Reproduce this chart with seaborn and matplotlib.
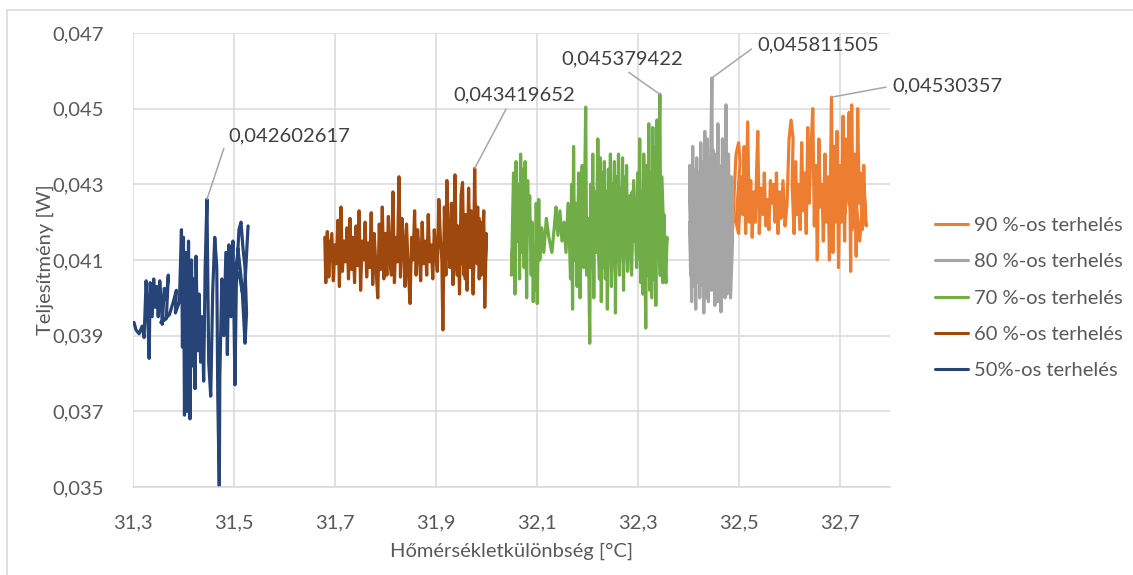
import matplotlib
matplotlib.use("Agg")
import matplotlib.pyplot as plt
import numpy as np
import pandas as pd
import seaborn as sns

# ---- measured series: temperature difference [°C] vs. power [W] ----
x50 = [31.302, 31.306, 31.312, 31.318, 31.322, 31.326, 31.329, 31.332, 31.334, 31.338,
       31.341, 31.344, 31.347, 31.350, 31.353, 31.356, 31.358, 31.362, 31.366, 31.370,
       31.366, 31.355, 31.372, 31.380, 31.386, 31.384, 31.392, 31.396, 31.398, 31.400,
       31.402, 31.405, 31.407, 31.410, 31.413, 31.416, 31.418, 31.420, 31.423, 31.425,
       31.428, 31.431, 31.434, 31.437, 31.440, 31.443, 31.4465, 31.450, 31.454, 31.458,
       31.462, 31.466, 31.468, 31.471, 31.472, 31.476, 31.480, 31.484, 31.487, 31.490,
       31.494, 31.498, 31.502, 31.505, 31.510, 31.514, 31.518, 31.522, 31.525, 31.522,
       31.516, 31.508, 31.500, 31.495, 31.512, 31.520, 31.528]
y50 = [0.03935, 0.03915, 0.03905, 0.03925, 0.03895, 0.04045, 0.03960, 0.03840, 0.04040, 0.03950,
       0.04050, 0.03975, 0.04030, 0.03950, 0.04045, 0.03985, 0.03930, 0.04025, 0.03995, 0.04060,
       0.03945, 0.03935, 0.03955, 0.03990, 0.04020, 0.03960, 0.03990, 0.04180, 0.03870, 0.04160,
       0.03690, 0.04120, 0.03700, 0.04150, 0.03680, 0.04100, 0.03820, 0.04050, 0.03760, 0.04110,
       0.03860, 0.04010, 0.03830, 0.03950, 0.03780, 0.04080, 0.042602617, 0.03830, 0.03740, 0.04020,
       0.04160, 0.04080, 0.03740, 0.03490, 0.03790, 0.04050, 0.03900, 0.04120, 0.03850, 0.04140,
       0.03950, 0.04150, 0.03770, 0.04060, 0.04180, 0.04200, 0.04130, 0.04080, 0.03960, 0.03880,
       0.04030, 0.04130, 0.03980, 0.04100, 0.04050, 0.03990, 0.04190]

x60 = [31.680, 31.682, 31.685, 31.688, 31.691, 31.689, 31.694, 31.697, 31.700, 31.703,
       31.706, 31.709, 31.712, 31.715, 31.718, 31.721, 31.724, 31.727, 31.730, 31.733,
       31.736, 31.739, 31.742, 31.745, 31.748, 31.751, 31.754, 31.757, 31.760, 31.763,
       31.766, 31.769, 31.772, 31.775, 31.778, 31.781, 31.785, 31.788, 31.791, 31.794,
       31.797, 31.800, 31.803, 31.806, 31.809, 31.812, 31.815, 31.818, 31.821, 31.824,
       31.827, 31.830, 31.833, 31.836, 31.839, 31.842, 31.845, 31.849, 31.852, 31.855,
       31.858, 31.861, 31.864, 31.867, 31.870, 31.873, 31.876, 31.879, 31.882, 31.885,
       31.888, 31.891, 31.894, 31.897, 31.900, 31.903, 31.906, 31.909, 31.912, 31.914,
       31.917, 31.920, 31.922, 31.925, 31.928, 31.931, 31.934, 31.938, 31.941, 31.944,
       31.947, 31.950, 31.953, 31.956, 31.959, 31.962, 31.965, 31.968, 31.971, 31.974,
       31.977, 31.980, 31.983, 31.986, 31.989, 31.992, 31.995, 31.997, 32.000, 31.998,
       31.994, 31.990, 31.986, 31.982, 31.978, 31.974, 31.970, 31.966, 31.962, 31.958,
       31.954, 31.950, 31.946, 31.942, 31.938]
y60 = [0.04160, 0.04040, 0.04175, 0.04055, 0.04150, 0.04090, 0.04170, 0.04045, 0.04140, 0.04090,
       0.04205, 0.04030, 0.04240, 0.04070, 0.04150, 0.04095, 0.04185, 0.04050, 0.04210, 0.04075,
       0.04160, 0.04040, 0.04190, 0.04085, 0.04230, 0.04020, 0.04150, 0.04100, 0.04200, 0.04055,
       0.04145, 0.04080, 0.04225, 0.04035, 0.04170, 0.04090, 0.04000, 0.04195, 0.04075, 0.04240,
       0.04050, 0.04170, 0.04060, 0.04215, 0.04100, 0.04060, 0.04280, 0.04040, 0.04160, 0.04095,
       0.04320, 0.04055, 0.04210, 0.04140, 0.04030, 0.04195, 0.04085, 0.03985, 0.04160, 0.04100,
       0.04230, 0.04060, 0.04180, 0.04120, 0.04045, 0.04200, 0.04090, 0.04150, 0.04060, 0.04220,
       0.04095, 0.04140, 0.04050, 0.04180, 0.04120, 0.04070, 0.04260, 0.04160, 0.04100, 0.03915,
       0.04240, 0.04060, 0.04310, 0.04150, 0.04080, 0.04250, 0.04035, 0.04325, 0.04090, 0.04190,
       0.04010, 0.04270, 0.04305, 0.04060, 0.04220, 0.04020, 0.04290, 0.04080, 0.04160, 0.04010,
       0.043419652, 0.04100, 0.04240, 0.04050, 0.04200, 0.04120, 0.04230, 0.03975, 0.04170, 0.04080,
       0.04150, 0.04060, 0.04210, 0.04090, 0.04170, 0.04040, 0.04230, 0.04110, 0.04180, 0.04050,
       0.04200, 0.04090, 0.04160, 0.04060, 0.04140]

x70 = [32.052, 32.050, 32.054, 32.057, 32.059, 32.062, 32.064, 32.066, 32.068, 32.071,
       32.073, 32.075, 32.077, 32.080, 32.082, 32.084, 32.086, 32.089, 32.091, 32.093,
       32.095, 32.097, 32.099, 32.101, 32.104, 32.106, 32.110, 32.114, 32.119, 32.124,
       32.130, 32.135, 32.138, 32.142, 32.146, 32.150, 32.154, 32.158, 32.162, 32.165,
       32.167, 32.169, 32.171, 32.173, 32.175, 32.178, 32.180, 32.183, 32.186, 32.188,
       32.190, 32.193, 32.197, 32.199, 32.202, 32.205, 32.207, 32.209, 32.211, 32.213,
       32.215, 32.218, 32.221, 32.224, 32.226, 32.228, 32.230, 32.232, 32.234, 32.236,
       32.238, 32.240, 32.242, 32.244, 32.246, 32.248, 32.250, 32.252, 32.254, 32.256,
       32.258, 32.260, 32.262, 32.264, 32.266, 32.268, 32.270, 32.272, 32.274, 32.276,
       32.278, 32.280, 32.283, 32.286, 32.289, 32.292, 32.295, 32.298, 32.300, 32.302,
       32.304, 32.306, 32.308, 32.310, 32.312, 32.314, 32.316, 32.318, 32.320, 32.322,
       32.324, 32.326, 32.328, 32.330, 32.332, 32.334, 32.336, 32.338, 32.340, 32.342,
       32.344, 32.346, 32.348, 32.350, 32.352, 32.355, 32.358, 32.356, 32.352, 32.348,
       32.344, 32.340, 32.336, 32.332, 32.328, 32.324, 32.320, 32.316, 32.312, 32.308,
       32.304, 32.300, 32.296, 32.292, 32.288, 32.284, 32.280, 32.276, 32.272, 32.268,
       32.264, 32.260, 32.256, 32.252, 32.248, 32.244, 32.240, 32.236, 32.232, 32.228,
       32.224, 32.220, 32.216, 32.212, 32.208, 32.204, 32.200, 32.196, 32.192, 32.188,
       32.184, 32.180]
y70 = [0.04130, 0.04060, 0.04330, 0.04010, 0.04360, 0.04150, 0.04300, 0.04050, 0.04380, 0.04120,
       0.04340, 0.04080, 0.04360, 0.04000, 0.04310, 0.04170, 0.04270, 0.04060, 0.04200, 0.03990,
       0.04110, 0.04020, 0.04250, 0.03985, 0.04260, 0.04100, 0.04185, 0.04120, 0.04210, 0.04160,
       0.04120, 0.04190, 0.04240, 0.04165, 0.04230, 0.04150, 0.04200, 0.04120, 0.04250, 0.04140,
       0.04050, 0.04300, 0.03970, 0.04400, 0.04100, 0.04250, 0.04030, 0.04330, 0.04000, 0.04200,
       0.04350, 0.04080, 0.04504, 0.04060, 0.04200, 0.03880, 0.04300, 0.04080, 0.04380, 0.04000,
       0.04280, 0.04120, 0.04420, 0.04200, 0.04370, 0.03990, 0.04330, 0.04080, 0.04360, 0.04050,
       0.04280, 0.03970, 0.04340, 0.04120, 0.04380, 0.04030, 0.04300, 0.04180, 0.04360, 0.03960,
       0.04320, 0.04100, 0.04380, 0.04060, 0.04290, 0.04140, 0.04370, 0.04020, 0.04250, 0.04160,
       0.04350, 0.04070, 0.04220, 0.04130, 0.04280, 0.04150, 0.04200, 0.04080, 0.04330, 0.04120,
       0.04420, 0.04040, 0.04280, 0.04010, 0.04380, 0.04150, 0.03920, 0.04300, 0.04060, 0.04460,
       0.04020, 0.04330, 0.04100, 0.04450, 0.04050, 0.04400, 0.03980, 0.04470, 0.04150, 0.04380,
       0.045379422, 0.04060, 0.04280, 0.04040, 0.04220, 0.04100, 0.04160, 0.04040, 0.04150, 0.04320,
       0.04060, 0.04250, 0.04150, 0.04310, 0.04000, 0.04230, 0.04120, 0.04350, 0.04050, 0.04200,
       0.04100, 0.04260, 0.04150, 0.04310, 0.04060, 0.04270, 0.04180, 0.04320, 0.04090, 0.04240,
       0.04130, 0.04300, 0.04070, 0.04250, 0.04150, 0.04290, 0.04060, 0.04220, 0.04140, 0.04310,
       0.04050, 0.04230, 0.04160, 0.04290, 0.04080, 0.04210, 0.04130, 0.04260, 0.04100, 0.04220,
       0.04150, 0.04190]

x80 = [32.405, 32.403, 32.407, 32.409, 32.411, 32.413, 32.415, 32.417, 32.419, 32.421,
       32.423, 32.425, 32.427, 32.429, 32.431, 32.433, 32.435, 32.437, 32.439, 32.441,
       32.443, 32.445, 32.447, 32.449, 32.451, 32.453, 32.455, 32.457, 32.459, 32.461,
       32.463, 32.465, 32.467, 32.469, 32.471, 32.473, 32.475, 32.477, 32.479, 32.481,
       32.483, 32.485, 32.487, 32.488, 32.484, 32.480, 32.476, 32.472, 32.468, 32.464,
       32.460, 32.456, 32.452, 32.448, 32.444, 32.440, 32.436, 32.432, 32.428, 32.424,
       32.420, 32.416, 32.412, 32.408, 32.404, 32.410, 32.418, 32.426, 32.434, 32.442,
       32.450, 32.458, 32.466, 32.474, 32.482, 32.488, 32.486, 32.483, 32.480, 32.477,
       32.474, 32.471, 32.468, 32.465, 32.462, 32.459, 32.456, 32.453, 32.450, 32.447,
       32.444, 32.441, 32.438, 32.435, 32.432, 32.429, 32.426, 32.423, 32.420, 32.417,
       32.414, 32.411, 32.408, 32.405, 32.403]
y80 = [0.04100, 0.04350, 0.03990, 0.04400, 0.04030, 0.04280, 0.03970, 0.04370, 0.04080, 0.04330,
       0.04000, 0.04410, 0.04120, 0.04300, 0.03960, 0.04440, 0.04060, 0.04360, 0.04010, 0.04290,
       0.04100, 0.04400, 0.045811505, 0.04050, 0.04330, 0.03980, 0.04380, 0.04100, 0.04460, 0.04030,
       0.04300, 0.03963, 0.04350, 0.04080, 0.04280, 0.04000, 0.04510, 0.04120, 0.04310, 0.04040,
       0.04260, 0.04090, 0.04300, 0.04150, 0.04000, 0.04230, 0.04050, 0.04350, 0.04020, 0.04270,
       0.04150, 0.04000, 0.04300, 0.04070, 0.04200, 0.03990, 0.04250, 0.04080, 0.04320, 0.04110,
       0.04250, 0.04040, 0.04200, 0.04050, 0.04300, 0.04120, 0.04220, 0.04050, 0.04180, 0.04030,
       0.04160, 0.04230, 0.04110, 0.04190, 0.04080, 0.04220, 0.04320, 0.04060, 0.04380, 0.04010,
       0.04290, 0.04100, 0.04420, 0.04050, 0.04340, 0.03990, 0.04310, 0.04120, 0.04390, 0.04020,
       0.04270, 0.04090, 0.04420, 0.04000, 0.04300, 0.04130, 0.04360, 0.04030, 0.04290, 0.04070,
       0.04340, 0.04110, 0.04260, 0.04060, 0.04200]

x90 = [32.488, 32.492, 32.495, 32.500, 32.503, 32.498, 32.495, 32.500, 32.505, 32.508,
       32.511, 32.514, 32.518, 32.521, 32.524, 32.527, 32.530, 32.533, 32.536, 32.538,
       32.541, 32.544, 32.548, 32.551, 32.554, 32.557, 32.560, 32.563, 32.566, 32.569,
       32.572, 32.575, 32.578, 32.581, 32.584, 32.588, 32.592, 32.596, 32.600, 32.604,
       32.608, 32.606, 32.610, 32.613, 32.616, 32.619, 32.622, 32.625, 32.628, 32.631,
       32.634, 32.637, 32.640, 32.643, 32.647, 32.650, 32.653, 32.656, 32.659, 32.662,
       32.665, 32.668, 32.671, 32.674, 32.677, 32.680, 32.684, 32.687, 32.690, 32.692,
       32.695, 32.698, 32.701, 32.704, 32.707, 32.710, 32.713, 32.716, 32.719, 32.722,
       32.724, 32.727, 32.730, 32.733, 32.736, 32.739, 32.742, 32.745, 32.748, 32.751,
       32.753, 32.748, 32.740, 32.732, 32.725, 32.718, 32.710]
y90 = [0.04180, 0.04300, 0.04380, 0.04410, 0.04360, 0.04260, 0.04200, 0.04170, 0.04320, 0.04220,
       0.04400, 0.04170, 0.04465, 0.04200, 0.04310, 0.04160, 0.04280, 0.04200, 0.04350, 0.04440,
       0.04170, 0.04290, 0.04220, 0.04330, 0.04190, 0.04260, 0.04180, 0.04310, 0.04250, 0.04300,
       0.04200, 0.04330, 0.04170, 0.04280, 0.04210, 0.04310, 0.04190, 0.04250, 0.04420, 0.04470,
       0.04420, 0.04300, 0.04170, 0.04360, 0.04220, 0.04300, 0.04180, 0.04410, 0.04230, 0.04330,
       0.04170, 0.04450, 0.04250, 0.04380, 0.04500, 0.04190, 0.04350, 0.04100, 0.04420, 0.04240,
       0.04300, 0.04150, 0.04380, 0.04200, 0.04320, 0.04100, 0.04530357, 0.04120, 0.04400, 0.04200,
       0.04440, 0.04080, 0.04350, 0.04200, 0.04480, 0.04150, 0.04420, 0.04260, 0.04490, 0.04070,
       0.04510, 0.04220, 0.04380, 0.04110, 0.04500, 0.04250, 0.04330, 0.04180, 0.04350, 0.04200,
       0.04190, 0.04300, 0.04150, 0.04260, 0.04180, 0.04300, 0.04220]

series_names = ["90 %-os terhelés", "80 %-os terhelés", "70 %-os terhelés",
                "60 %-os terhelés", "50%-os terhelés"]
series_x = [x90, x80, x70, x60, x50]
series_y = [y90, y80, y70, y60, y50]
series_colors = ["#ED7D31", "#A5A5A5", "#70AD47", "#9E480E", "#264478"]

x_ticks = [31.3, 31.5, 31.7, 31.9, 32.1, 32.3, 32.5, 32.7]
y_ticks = [0.035, 0.037, 0.039, 0.041, 0.043, 0.045, 0.047]

x_title = "Hőmérsékletkülönbség [°C]"
y_title = "Teljesítmény [W]"

# ---- long-form table ----
frames = []
for name, xs, ys in zip(series_names, series_x, series_y):
    frames.append(pd.DataFrame({"x": xs, "y": ys, "series": name}))
df = pd.concat(frames, ignore_index=True)

TEXT = "#595959"
GRID = "#D9D9D9"
sns.set_theme(style="white")
plt.rcParams["font.family"] = ["Lato", "DejaVu Sans"]

W, H = 1133, 575
fig = plt.figure(figsize=(W / 100, H / 100), dpi=100)
ax = fig.add_axes([133 / W, 1 - 487 / H, (890 - 133) / W, (487 - 33) / H])

sns.lineplot(data=df, x="x", y="y", hue="series", hue_order=series_names,
             palette=dict(zip(series_names, series_colors)), sort=False,
             estimator=None, units="series", linewidth=2.3, legend=False, ax=ax)

ax.set_xlim(31.3, 32.8)
ax.set_ylim(0.035, 0.047)
ax.set_xticks(x_ticks)
ax.set_yticks(y_ticks)
ax.set_xticklabels([f"{v:.1f}".replace(".", ",") for v in x_ticks])
ax.set_yticklabels([f"{v:.3f}".replace(".", ",") for v in y_ticks])
ax.tick_params(axis="both", length=0, labelsize=14.5, colors=TEXT)
ax.tick_params(axis="x", pad=20)
ax.tick_params(axis="y", pad=21)
ax.grid(True, color=GRID, linewidth=1.1)
ax.set_axisbelow(True)
for side in ["top", "right", "left"]:
    ax.spines[side].set_visible(False)
ax.spines["bottom"].set_color(GRID)
ax.spines["bottom"].set_linewidth(1.1)

ax.set_xlabel(x_title, fontsize=14.5, color=TEXT, labelpad=8)
ax.set_ylabel(y_title, fontsize=14.5, color=TEXT)
ax.yaxis.set_label_coords((54 - 133) / (890 - 133), 0.5)

# ---- peak labels with leader lines ----
label_boxes = [  # (series index, text anchor in figure pixels, leader attach point on text)
    (4, (228, 575 - 136), (0.0, 0.5)),
    (3, (453, 575 - 95), (0.46, 0.0)),
    (2, (561, 575 - 59), (0.5, 0.0)),
    (1, (757, 575 - 45), (0.0, 0.5)),
    (0, (892, 575 - 86), (0.0, 0.5)),
]
for idx, pos, rel in label_boxes:
    ys = series_y[idx]
    k = int(np.argmax(ys))
    peak_x, peak_y = series_x[idx][k], ys[k]
    ax.annotate(f"{peak_y}".replace(".", ","), xy=(peak_x, peak_y), xycoords="data",
                xytext=pos, textcoords="figure pixels", ha="left", va="center",
                fontsize=14.5, color="#404040", annotation_clip=False,
                arrowprops=dict(arrowstyle="-", color="#A6A6A6", lw=1.1,
                                shrinkA=2, shrinkB=0, relpos=rel))

# ---- legend ----
handles = [plt.Line2D([], [], color=c, lw=2.2) for c in series_colors]
fig.legend(handles, series_names, loc="center left",
           bbox_to_anchor=(935 / W, 1 - 298 / H), frameon=False,
           fontsize=14.5, labelcolor=TEXT, handlelength=1.65, handletextpad=0.3,
           labelspacing=0.95, borderpad=0, borderaxespad=0)

# chart-area border (left and top edges)
fig.add_artist(plt.Line2D([7 / W, 7 / W], [0, 1 - 10 / H], color=GRID, lw=1.1,
                          transform=fig.transFigure))
fig.add_artist(plt.Line2D([7 / W, 1], [1 - 10 / H, 1 - 10 / H], color=GRID, lw=1.1,
                          transform=fig.transFigure))

fig.savefig("out.png", dpi=100)
